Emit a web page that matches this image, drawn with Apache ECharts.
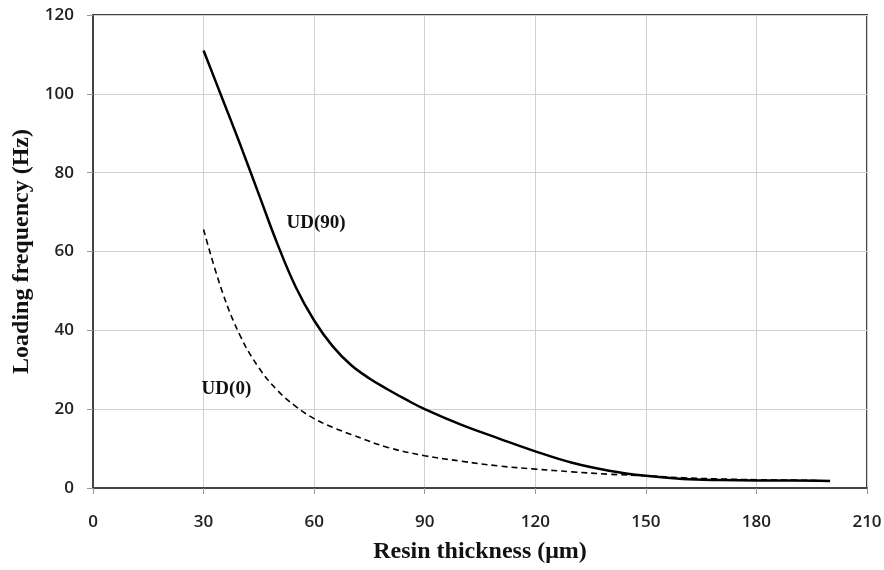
<!DOCTYPE html>
<html><head><meta charset="utf-8">
<script src="https://cdn.jsdelivr.net/npm/echarts@6/dist/echarts.min.js"></script>
<style>html,body{margin:0;padding:0;background:#fff}#c{width:884px;height:570px}</style>
</head><body><div id="c"></div>
<script>
const xTitle = 'Resin thickness (\u03bcm)';
const yTitle = 'Loading frequency (Hz)';
const ud90X = [30,35,40,45,50,55,60,65,70,75,80,85,90,100,110,120,130,140,150,160,170,180,190,200];
const ud90Y = [111,99,87,74.5,62,51,42.5,36,31.2,27.8,25,22.4,20,16,12.6,9.3,6.4,4.4,3.1,2.3,2.0,1.9,1.9,1.8];
const ud0X = [30,35,40,45,50,55,60,65,70,80,90,100,110,120,130,140,150,160,170,180,190,197];
const ud0Y = [65.6,50,38.5,30.5,24.8,20.7,17.6,15.4,13.6,10.3,8.2,6.8,5.6,4.8,4.1,3.5,3.1,2.6,2.3,2.1,2.0,1.9];
const labels = [{name:'UD(90)', x:60.5, y:67.3},{name:'UD(0)', x:36.2, y:25}];

const toPairs = (xs, ys) => xs.map((x,i)=>[x, ys[i]]);
const serif = '"Liberation Serif","Times New Roman",serif';
const tickFont = {fontFamily:'"Open Sans",sans-serif', fontWeight:600, fontSize:17, color:'#222'};
const annot = (l) => ({
  symbol:'circle', symbolSize:1, itemStyle:{color:'rgba(0,0,0,0)'},
  data:[{coord:[l.x, l.y], label:{show:true, formatter:l.name, position:'inside',
    fontFamily:serif, fontWeight:'bold', fontSize:19, color:'#111'}}]
});
const chart = echarts.init(document.getElementById('c'), null, {renderer:'canvas'});
chart.setOption({
  animation:false,
  grid:{left:93, right:17, top:15, bottom:82, containLabel:false, outerBoundsMode:'none',
        show:true, borderColor:'#444', borderWidth:2},
  xAxis:{type:'value', min:0, max:210, interval:30,
    name:xTitle, nameLocation:'middle', nameGap:52,
    nameTextStyle:{fontFamily:serif, fontWeight:'bold', fontSize:24, color:'#111'},
    axisLine:{lineStyle:{color:'#444', width:2}},
    axisTick:{show:true, length:6, lineStyle:{color:'#999', width:1}},
    axisLabel:Object.assign({margin:26}, tickFont),
    splitLine:{show:true, lineStyle:{color:'#d0d0d0', width:1}}},
  yAxis:{type:'value', min:0, max:120, interval:20,
    name:yTitle, nameLocation:'middle', nameGap:56,
    nameTextStyle:{fontFamily:serif, fontWeight:'bold', fontSize:24, color:'#111'},
    axisLine:{show:true, lineStyle:{color:'#444', width:2}},
    axisTick:{show:true, length:6, lineStyle:{color:'#999', width:1}},
    axisLabel:Object.assign({margin:19}, tickFont),
    splitLine:{show:true, lineStyle:{color:'#d0d0d0', width:1}}},
  series:[
    {name:'UD(90)', type:'line', data:toPairs(ud90X, ud90Y), smooth:0.4, showSymbol:false,
     lineStyle:{color:'#000', width:2.5}, markPoint:annot(labels[0])},
    {name:'UD(0)', type:'line', data:toPairs(ud0X, ud0Y), smooth:0.4, showSymbol:false,
     lineStyle:{color:'#000', width:1.6, type:[6,4]}, markPoint:annot(labels[1])}
  ]
});
</script></body></html>
